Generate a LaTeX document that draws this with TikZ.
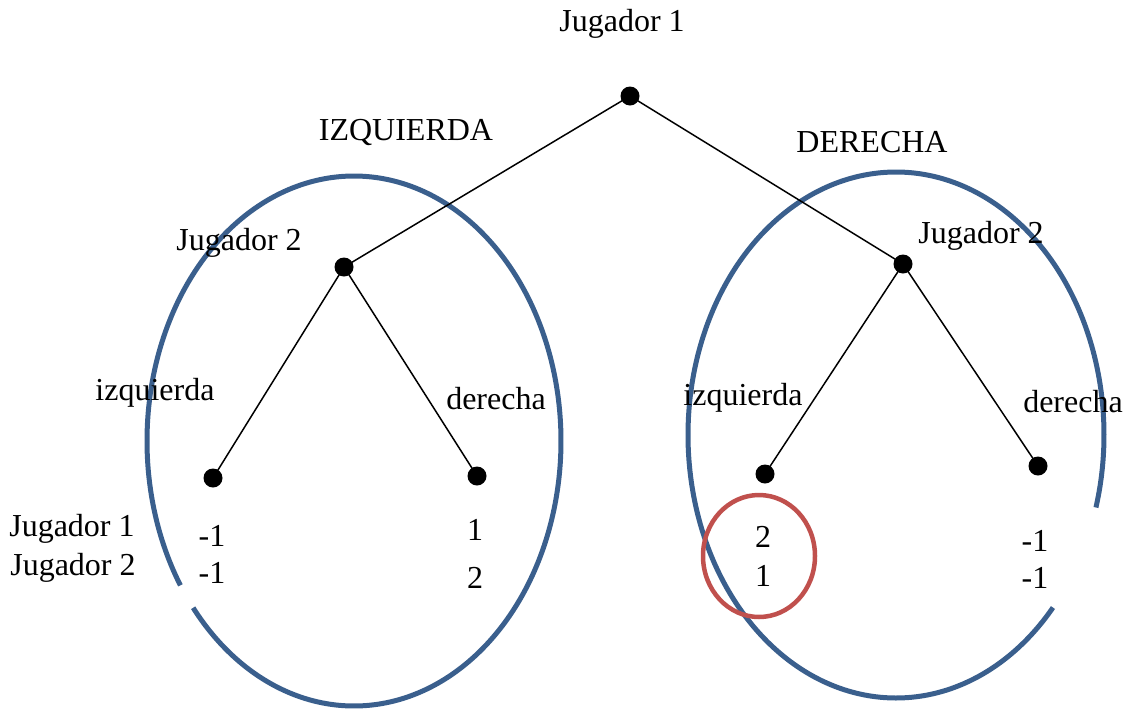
\documentclass[tikz,border=0pt]{standalone}
\usepackage{fontspec}
\setmainfont{Liberation Serif}
\definecolor{setblue}{HTML}{3A5F8D}
\definecolor{setred}{HTML}{C0504D}
\begin{document}
\begin{tikzpicture}[x=1pt,y=-1pt,
  dot/.style={circle,fill=black,inner sep=0pt,minimum size=19pt},
  lbl/.style={font=\fontsize{32}{36}\selectfont,inner sep=0pt,anchor=center},
  edge/.style={draw=black,line width=1.5pt},
  infoset/.style={draw=setblue,line width=5pt},
  best/.style={draw=setred,line width=4.5pt}]
\useasboundingbox (0,0) rectangle (1125,710);
% information sets
\draw[infoset] plot[domain=219:573,samples=240,smooth] ({354+207*cos(\x)},{441-265*sin(\x)});
\draw[infoset] plot[domain=-16:319,samples=240,smooth] ({896+208*cos(\x)},{435-263*sin(\x)});
\draw[best] (759,556) ellipse[x radius=56,y radius=61];
% nodes
\node[dot] (r) at (630,96) {};
\node[dot] (L) at (344,267) {};
\node[dot] (R) at (903,264) {};
\node[dot] (LL) at (213,478) {};
\node[dot] (LR) at (477,476) {};
\node[dot] (RL) at (765,474) {};
\node[dot] (RR) at (1038,466) {};
\draw[edge] (r.center) -- (L.center);
\draw[edge] (r.center) -- (R.center);
\draw[edge] (L.center) -- (LL.center);
\draw[edge] (L.center) -- (LR.center);
\draw[edge] (R.center) -- (RL.center);
\draw[edge] (R.center) -- (RR.center);
% labels
\node[lbl] (t1) at (622,24) {Jugador 1};
\node[lbl] (tIZ) at (406,132) {IZQUIERDA};
\node[lbl] (tDE) at (872,142) {DERECHA};
\node[lbl] (tj2l) at (239,243) {Jugador 2};
\node[lbl] (tj2r) at (981,236) {Jugador 2};
\node[lbl] (a1) at (155,393) {izquierda};
\node[lbl] (a2) at (496,399) {derecha};
\node[lbl] (a3) at (743,398) {izquierda};
\node[lbl] (a4) at (1073,402) {derecha};
\node[lbl] (p1) at (72,529) {Jugador 1};
\node[lbl] (p2) at (73,568) {Jugador 2};
\node[lbl] (v1) at (212,536) {-1};
\node[lbl] (v2) at (212,573) {-1};
\node[lbl] (v3) at (475,530) {1};
\node[lbl] (v4) at (475,578) {2};
\node[lbl] (v5) at (763,537) {2};
\node[lbl] (v6) at (763,576) {1};
\node[lbl] (v7) at (1035,541) {-1};
\node[lbl] (v8) at (1035,578) {-1};
\end{tikzpicture}
\end{document}
